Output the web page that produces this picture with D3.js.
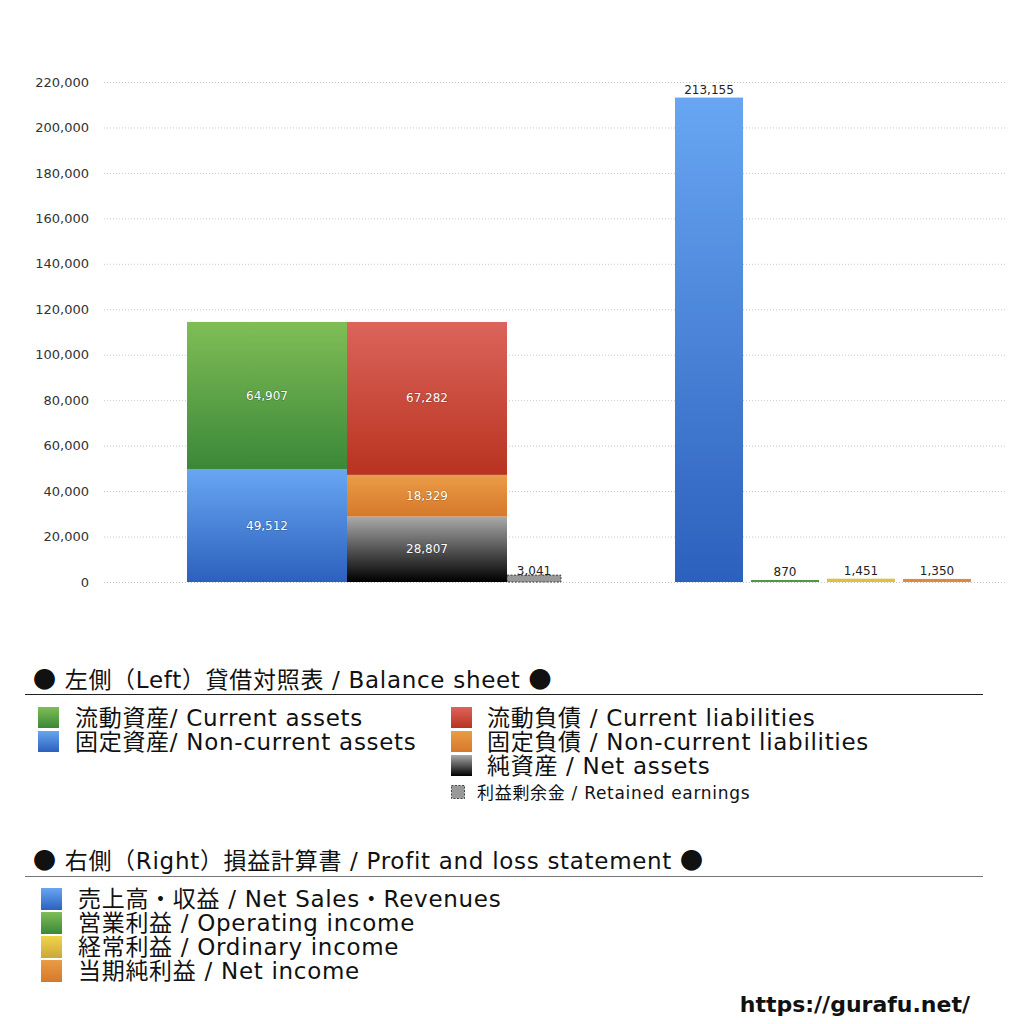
<!DOCTYPE html>
<html><head><meta charset="utf-8">
<script src="https://cdn.jsdelivr.net/npm/d3@7/dist/d3.min.js"></script>
<style>
html,body{margin:0;padding:0;background:#fff;}
svg{display:block;font-family:"DejaVu Sans","Noto Sans CJK JP",sans-serif;}
.leg text{letter-spacing:0.7px;}
</style></head>
<body>
<svg id="c" width="1024" height="1024"></svg>
<script>
// ---- data ----
const yTicks = [0,20000,40000,60000,80000,100000,120000,140000,160000,180000,200000,220000];
const assetCats = ["固定資産","流動資産"];
const assetVals = [49512, 64907];
const liabCats = ["純資産","固定負債","流動負債"];
const liabVals = [28807, 18329, 67282];
const retainedLabel = "利益剰余金";
const retainedVal = 3041;
const plCats = ["売上高・収益","営業利益","経常利益","当期純利益"];
const plVals = [213155, 870, 1451, 1350];

const legendHeader1 = ["左側（Left）貸借対照表 / Balance sheet"];
const legendLeftCol = ["流動資産/ Current assets","固定資産/ Non-current assets"];
const legendRightCol = ["流動負債 /  Current liabilities","固定負債 / Non-current liabilities","純資産 / Net assets"];
const legendRetained = "利益剰余金 / Retained earnings";
const legendHeader2 = ["右側（Right）損益計算書 / Profit and loss statement"];
const legendPL = ["売上高・収益 / Net Sales・Revenues","営業利益 / Operating income","経常利益 / Ordinary income","当期純利益 / Net income"];
const siteUrl = "https://gurafu.net/";

// ---- setup ----
const svg = d3.select("#c");
const defs = svg.append("defs");
function grad(id, top, bot){
  const g = defs.append("linearGradient").attr("id",id).attr("x1",0).attr("y1",0).attr("x2",0).attr("y2",1);
  g.append("stop").attr("offset","0%").attr("stop-color",top);
  g.append("stop").attr("offset","100%").attr("stop-color",bot);
  return `url(#${id})`;
}
const fills = {
  green: grad("gGreen","#80bd56","#3a8838"),
  blue: grad("gBlue","#68a6f2","#2c60bd"),
  red: grad("gRed","#dc645b","#b83320"),
  orange: grad("gOrange","#ea9c46","#d6782b"),
  black: grad("gBlack","#aaaaaa","#000000"),
  yellow: grad("gYellow","#f2d44a","#c9a838")
};
const fmt = d3.format(",");

const y = d3.scaleLinear().domain([0,220000]).range([582,82]);

// grid
const grid = svg.append("g");
grid.selectAll("line").data(yTicks).join("line")
  .attr("x1",104).attr("x2",1005)
  .attr("y1",d=>y(d)+0.5).attr("y2",d=>y(d)+0.5)
  .attr("stroke","#c8c8c8").attr("stroke-width",1).attr("stroke-dasharray","1,2");

// y axis
const yAxis = d3.axisLeft(y).tickValues(yTicks).tickFormat(fmt).tickSize(0).tickPadding(0);
const ga = svg.append("g").attr("transform","translate(89,0)").call(yAxis);
ga.select(".domain").remove();
ga.selectAll("text").attr("font-size",13).attr("fill","#333")
  .attr("font-family",'"DejaVu Sans","Noto Sans CJK JP",sans-serif');

// left group band scale
const xL = d3.scaleBand().domain(["assets","liab"]).range([187,507]).paddingInner(0).paddingOuter(0);
const retainedWidth = xL.bandwidth()*0.3375;

function stack(cats, vals){
  let acc = 0;
  return cats.map((c,i)=>{ const o={cat:c,v:vals[i],y0:acc,y1:acc+vals[i]}; acc+=vals[i]; return o;});
}
const assetStack = stack(assetCats, assetVals);
const liabStack = stack(liabCats, liabVals);
const assetFill = [fills.blue, fills.green];
const liabFill = [fills.black, fills.orange, fills.red];

function drawStack(data, key, fillArr){
  const g = svg.append("g");
  g.selectAll("rect").data(data).join("rect")
    .attr("x",xL(key)).attr("width",xL.bandwidth())
    .attr("y",d=>y(d.y1)).attr("height",d=>y(d.y0)-y(d.y1))
    .attr("fill",(d,i)=>fillArr[i]);
  g.selectAll("text").data(data).join("text")
    .attr("x",xL(key)+xL.bandwidth()/2)
    .attr("y",d=>(y(d.y0)+y(d.y1))/2+4)
    .attr("text-anchor","middle").attr("font-size",12).attr("fill","#fff")
    .attr("style","paint-order:stroke;stroke:rgba(0,0,0,0.25);stroke-width:1.2px")
    .text(d=>fmt(d.v));
}
drawStack(assetStack,"assets",assetFill);
drawStack(liabStack,"liab",liabFill);

// retained earnings
const rx = xL("liab")+xL.bandwidth();
svg.append("rect").attr("x",rx).attr("width",retainedWidth)
  .attr("y",y(retainedVal)).attr("height",y(0)-y(retainedVal))
  .attr("fill","#999").attr("stroke","#222").attr("stroke-width",0.8).attr("stroke-dasharray","2,1.5");
svg.append("text").attr("x",rx+retainedWidth/2).attr("y",y(retainedVal)-0.5)
  .attr("text-anchor","middle").attr("font-size",12).attr("fill","#222").text(fmt(retainedVal));

// right group
const xR = d3.scaleBand().domain(plCats).range([671,975]).paddingInner(8/76).paddingOuter(4/76);
const plFill = [fills.blue, "#4a9a3e", "#e0c040", "#dd8a3a"];
const gr = svg.append("g");
gr.selectAll("rect").data(plVals).join("rect")
  .attr("x",(d,i)=>xR(plCats[i])).attr("width",xR.bandwidth())
  .attr("y",d=>y(d)).attr("height",d=>y(0)-y(d))
  .attr("fill",(d,i)=>plFill[i]);
gr.selectAll("text").data(plVals).join("text")
  .attr("x",(d,i)=>xR(plCats[i])+xR.bandwidth()/2)
  .attr("y",(d,i)=>y(d)-4)
  .attr("text-anchor","middle").attr("font-size",12).attr("fill","#222")
  .text(d=>fmt(d));

// ---- legend ----
const lg = svg.append("g").attr("class","leg").attr("fill","#111");
function header(txt, yy){
  const t = lg.append("text").attr("x",33).attr("y",yy).attr("font-size",23);
  t.append("tspan").attr("font-family",'"Noto Sans CJK JP",sans-serif').text("●");
  t.append("tspan").text(" " + txt + " ");
  t.append("tspan").attr("font-family",'"Noto Sans CJK JP",sans-serif').text("●");
}
header(legendHeader1[0], 688);
lg.append("line").attr("x1",25).attr("x2",983).attr("y1",694.5).attr("y2",694.5).attr("stroke","#222").attr("stroke-width",1.2);

const leftFills = [fills.green, fills.blue];
legendLeftCol.forEach((t,i)=>{
  lg.append("rect").attr("x",38).attr("y",707+i*24).attr("width",21).attr("height",21).attr("fill",leftFills[i]);
  lg.append("text").attr("x",75).attr("y",726+i*24).attr("font-size",23).text(t);
});
const rightFills = [fills.red, fills.orange, fills.black];
legendRightCol.forEach((t,i)=>{
  lg.append("rect").attr("x",451).attr("y",707+i*24).attr("width",21).attr("height",21).attr("fill",rightFills[i]);
  lg.append("text").attr("x",487).attr("y",726+i*24).attr("font-size",23).text(t);
});
lg.append("rect").attr("x",451.5).attr("y",785.5).attr("width",13).attr("height",13)
  .attr("fill","#999").attr("stroke","#222").attr("stroke-width",0.8).attr("stroke-dasharray","2,1.5");
lg.append("text").attr("x",477).attr("y",799).attr("font-size",17).text(legendRetained);

header(legendHeader2[0], 869);
lg.append("line").attr("x1",25).attr("x2",983).attr("y1",876.5).attr("y2",876.5).attr("stroke","#777").attr("stroke-width",1.2);
const plLegFills = [fills.blue, fills.green, fills.yellow, fills.orange];
legendPL.forEach((t,i)=>{
  lg.append("rect").attr("x",41).attr("y",888+i*24).attr("width",21).attr("height",22).attr("fill",plLegFills[i]);
  lg.append("text").attr("x",78).attr("y",907+i*24).attr("font-size",23).text(t);
});

svg.append("text").attr("x",970).attr("y",1012).attr("text-anchor","end")
  .attr("font-size",22).attr("font-weight","bold").attr("fill","#111")
  .text(siteUrl);
</script>
</body></html>
